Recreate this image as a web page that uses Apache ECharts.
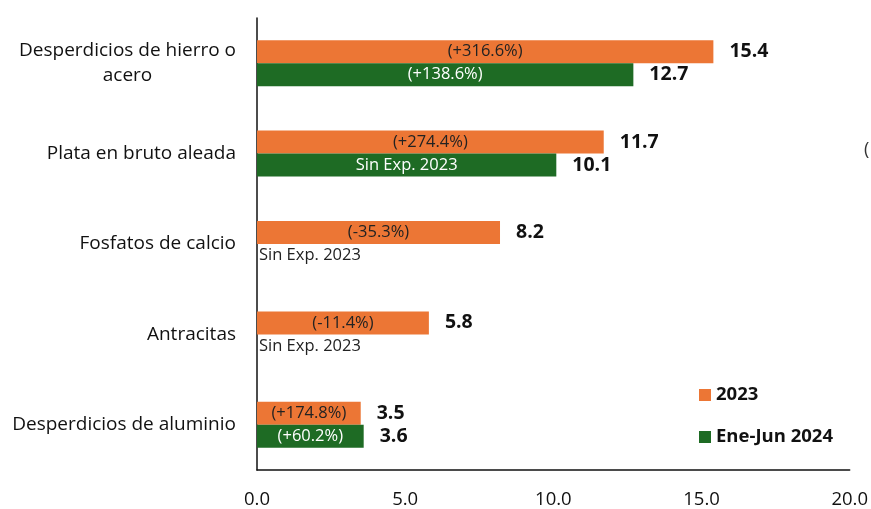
<!DOCTYPE html>
<html>
<head>
<meta charset="utf-8">
<script src="https://cdn.jsdelivr.net/npm/echarts@6/dist/echarts.min.js"></script>
<style>
  html, body { margin: 0; padding: 0; background: #fff; }
  #chart { width: 871px; height: 509px; }
</style>
</head>
<body>
<div id="chart"></div>
<script>
const categories = ['Desperdicios de hierro o\nacero', 'Plata en bruto aleada', 'Fosfatos de calcio', 'Antracitas', 'Desperdicios de aluminio'];
const val2023 = [15.4, 11.7, 8.2, 5.8, 3.5];
const val2024 = [12.7, 10.1, 0, 0, 3.6];
const var2023 = ['(+316.6%)', '(+274.4%)', '(-35.3%)', '(-11.4%)', '(+174.8%)'];
const var2024 = ['(+138.6%)', 'Sin Exp. 2023', 'Sin Exp. 2023', 'Sin Exp. 2023', '(+60.2%)'];
const xTicks = [0, 5, 10, 15, 20];

const ORANGE = '#EC7635';
const GREEN = '#1E6B24';
const FONT = '"Open Sans", "Liberation Sans", sans-serif';

const myChart = echarts.init(document.getElementById('chart'));

// etiqueta de variacion dentro de la barra (o a la derecha si no hay barra)
function innerLabels(vals, texts, color) {
  return vals.map((v, i) => ({
    value: v,
    label: v > 0
      ? { show: true, position: 'inside', formatter: texts[i], color: color, fontSize: 16.5, fontFamily: FONT }
      : { show: true, position: 'right', distance: 2, formatter: texts[i], color: '#222', fontSize: 16.5, fontFamily: FONT }
  }));
}

// serie vacia apilada sobre la barra para poner el valor a la derecha
function valueSeries(stack, vals) {
  return {
    type: 'bar',
    stack: stack,
    stackStrategy: 'all',
    barWidth: 23,
    barGap: '0%',
    silent: true,
    itemStyle: { color: 'transparent' },
    data: vals.map(() => 0),
    label: {
      show: true,
      position: 'right',
      distance: 16,
      formatter: p => (vals[p.dataIndex] > 0 ? vals[p.dataIndex].toFixed(1) : ''),
      color: '#111',
      fontSize: 19.5,
      fontWeight: 'bold',
      fontFamily: FONT
    }
  };
}

const option = {
  animation: false,
  grid: { left: 257, right: 12, top: 18, bottom: 39 },
  legend: {
    orient: 'vertical',
    left: 694,
    top: 380,
    itemWidth: 12,
    itemHeight: 12,
    itemGap: 22,
    icon: 'rect',
    data: ['2023', 'Ene-Jun 2024'],
    textStyle: { color: '#111', fontSize: 18.5, fontWeight: 'bold', fontFamily: FONT, lineHeight: 20 }
  },
  xAxis: {
    type: 'value',
    min: xTicks[0],
    max: xTicks[xTicks.length - 1],
    interval: 5,
    splitLine: { show: false },
    axisTick: { show: false },
    axisLine: { show: true, lineStyle: { color: '#111', width: 1.5 } },
    axisLabel: {
      margin: 20,
      color: '#111',
      fontSize: 18.5,
      fontFamily: FONT,
      formatter: v => v.toFixed(1)
    }
  },
  yAxis: {
    type: 'category',
    inverse: true,
    data: categories,
    axisTick: { show: false },
    axisLine: { show: true, lineStyle: { color: '#111', width: 1.5 } },
    axisLabel: {
      margin: 21,
      align: 'right',
      formatter: v => v.split('\n').map(s => '{c|' + s + '}').join('\n'),
      rich: {
        c: { align: 'center', color: '#111', fontSize: 19, fontFamily: FONT, lineHeight: 25 }
      }
    }
  },
  graphic: [
    { type: 'text', left: 864, top: 141, style: { text: '(', fontSize: 18, fontFamily: FONT, fill: '#333' } }
  ],
  series: [
    {
      name: '2023',
      type: 'bar',
      stack: 'a',
      stackStrategy: 'all',
      barWidth: 23,
      barGap: '0%',
      itemStyle: { color: ORANGE },
      data: innerLabels(val2023, var2023, '#222')
    },
    valueSeries('a', val2023),
    {
      name: 'Ene-Jun 2024',
      type: 'bar',
      stack: 'b',
      stackStrategy: 'all',
      barWidth: 23,
      barGap: '0%',
      itemStyle: { color: GREEN },
      data: innerLabels(val2024, var2024, '#fff')
    },
    valueSeries('b', val2024)
  ]
};
myChart.setOption(option);
</script>
</body>
</html>
